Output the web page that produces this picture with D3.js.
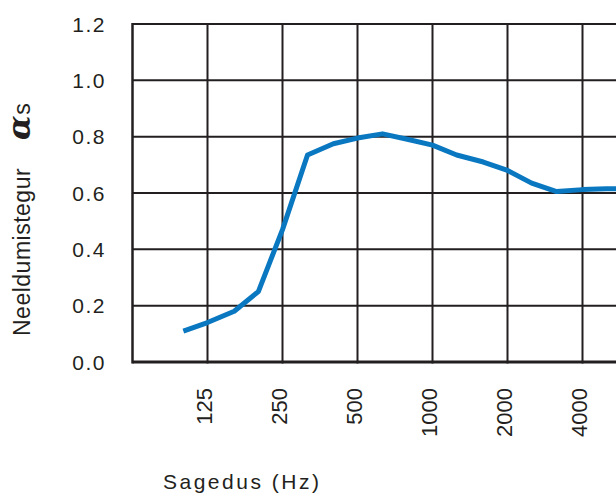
<!DOCTYPE html>
<html>
<head>
<meta charset="utf-8">
<script src="https://cdn.jsdelivr.net/npm/d3@7"></script>
<style>
  body { margin: 0; background: #fff; }
  svg { display: block; font-family: "Liberation Sans", Arial, sans-serif; }
</style>
</head>
<body>
<svg id="chart"></svg>
<script>
// one-third octave band centre frequencies (Hz)
const freqs = [100, 125, 160, 200, 250, 315, 400, 500, 630, 800, 1000, 1250, 1600, 2000, 2500, 3150, 4000, 5000, 6300];
// sound absorption coefficient alpha_s
const alphaS = [0.11, 0.14, 0.18, 0.25, 0.47, 0.735, 0.775, 0.795, 0.81, 0.79, 0.77, 0.735, 0.71, 0.68, 0.635, 0.605, 0.612, 0.615, 0.615];
// octave tick labels
const xTicks = [125, 250, 500, 1000, 2000, 4000];
const yTicks = [0, 0.2, 0.4, 0.6, 0.8, 1.0, 1.2];

const W = 616, H = 493;
const ink = "#231f20";

const svg = d3.select("#chart")
    .attr("width", W)
    .attr("height", H);

// plot spans 62.5 Hz .. 8000 Hz, the right part is cut by the page edge
const x = d3.scaleLog().base(2)
    .domain([62.5, 8000])
    .range([132.5, 657.5]);

const y = d3.scaleLinear()
    .domain([0, 1.2])
    .range([362, 24]);

const grid = svg.append("g")
    .attr("stroke", ink)
    .attr("stroke-width", 2);

// horizontal grid lines
grid.selectAll(".h")
    .data(yTicks)
    .join("line")
    .attr("x1", x(62.5))
    .attr("x2", x(8000))
    .attr("y1", d => y(d))
    .attr("y2", d => y(d))
    .attr("stroke-width", d => d === 0 ? 3 : 2);

// vertical grid lines
grid.selectAll(".v")
    .data([62.5].concat(xTicks))
    .join("line")
    .attr("x1", d => x(d))
    .attr("x2", d => x(d))
    .attr("y1", y(1.2) - 1)
    .attr("y2", y(0) + 1.5)
    .attr("stroke-width", d => d === 62.5 ? 2.5 : 2);

// absorption curve
const line = d3.line()
    .x((d, i) => x(freqs[i]))
    .y(d => y(d));

svg.append("path")
    .datum(alphaS)
    .attr("fill", "none")
    .attr("stroke", "#0a77c1")
    .attr("stroke-width", 5)
    .attr("stroke-linejoin", "round")
    .attr("d", line);

// y tick labels
svg.append("g")
    .selectAll("text")
    .data(yTicks)
    .join("text")
    .attr("x", 106)
    .attr("y", d => y(d))
    .attr("dy", "0.36em")
    .attr("text-anchor", "end")
    .attr("font-size", 21)
    .attr("letter-spacing", 1.5)
    .attr("fill", ink)
    .text(d => d.toFixed(1));

// x tick labels, rotated
svg.append("g")
    .selectAll("text")
    .data(xTicks)
    .join("text")
    .attr("transform", d => `translate(${x(d) - 3},388) rotate(-90)`)
    .attr("dy", "0.36em")
    .attr("text-anchor", "end")
    .attr("font-size", 22)
    .attr("fill", ink)
    .text(d => d);

// axis titles
svg.append("text")
    .attr("x", 163)
    .attr("y", 489)
    .attr("font-size", 21)
    .attr("letter-spacing", 2.5)
    .attr("fill", ink)
    .text("Sagedus (Hz)");

const yTitle = svg.append("text")
    .attr("transform", "translate(30,336) rotate(-90)")
    .attr("font-size", 23)
    .attr("letter-spacing", 0.5)
    .attr("fill", ink);

yTitle.append("tspan").text("Neeldumistegur");
yTitle.append("tspan")
    .attr("dx", 28)
    .attr("font-family", "'DejaVu Serif', serif")
    .attr("font-style", "italic")
    .attr("font-weight", "bold")
    .attr("font-size", 32)
    .text("α");
yTitle.append("tspan")
    .text("s");
</script>
</body>
</html>
